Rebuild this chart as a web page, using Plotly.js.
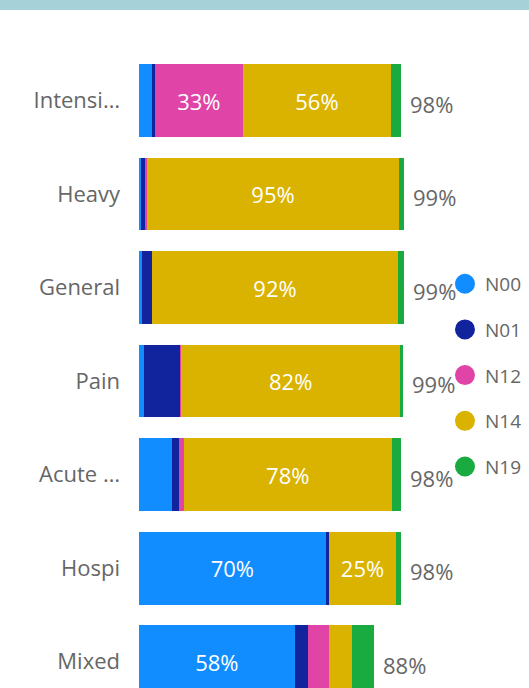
<!DOCTYPE html>
<html>
<head>
<meta charset="utf-8">
<script src="https://cdn.plot.ly/plotly-3.0.1.min.js"></script>
<style>html,body{margin:0;padding:0;background:#fff;overflow:hidden}#chart{width:529px;height:688px}</style>
</head>
<body>
<div id="chart"></div>
<script>
var categories = ["Intensi…", "Heavy", "General", "Pain", "Acute …", "Hospi", "Mixed"];
var seriesNames = ["N00", "N01", "N12", "N14", "N19"];
var N00 = [4.8, 0.7, 1.1, 1.9, 12.3, 69.9, 58.3];
var N01 = [1.2, 1.5, 3.7, 13.5, 2.6, 1.1, 4.9];
var N12 = [32.8, 0.7, 0.0, 0.3, 1.9, 0.0, 7.9];
var N14 = [55.7, 94.6, 92.3, 82.2, 77.8, 25.4, 8.6];
var N19 = [3.5, 1.9, 2.2, 1.1, 3.4, 1.9, 8.2];
var colors = ["#118DFF", "#12239E", "#E044A7", "#D9B300", "#1AAB40"];

var FONT = "'Segoe UI', 'Open Sans', sans-serif";
var series = [N00, N01, N12, N14, N19];
var traces = [];
series.forEach(function (vals, i) {
  traces.push({
    type: "bar", orientation: "h", name: seriesNames[i],
    y: categories, x: vals,
    marker: {color: colors[i]},
    text: vals.map(function (v) { return v >= 20 ? Math.round(v) + "%" : ""; }),
    textposition: "inside", insidetextanchor: "middle",
    textfont: {color: "#ffffff", size: 22, family: FONT},
    showlegend: false, hoverinfo: "skip", cliponaxis: true
  });
});
// legend entries
series.forEach(function (vals, i) {
  traces.push({
    type: "scatter", mode: "markers", name: seriesNames[i],
    x: [null], y: [null], legendgroup: "g" + i,
    marker: {color: colors[i], size: 16, line: {color: colors[i], width: 4}},
    showlegend: true
  });
});

var totals = categories.map(function (c, k) {
  return series.reduce(function (s, arr) { return s + arr[k]; }, 0);
});
var annotations = categories.map(function (c, k) {
  return {
    x: totals[k], y: c, xref: "x", yref: "y",
    text: Math.round(totals[k]) + "%", showarrow: false,
    xanchor: "left", yanchor: "middle", xshift: 7, yshift: -3,
    font: {size: 22, color: "#666666", family: FONT}
  };
});

var layout = {
  width: 529, height: 688,
  margin: {l: 139, r: 529 - 139 - 267.5, t: 40, b: 0},
  barmode: "stack", bargap: 0.22,
  paper_bgcolor: "#ffffff", plot_bgcolor: "#ffffff",
  showlegend: true,
  legend: {
    x: 1.146, xanchor: "left", y: 0.653, yanchor: "top",
    traceorder: "grouped", tracegroupgap: 18,
    font: {size: 19, color: "#666666", family: FONT},
    bgcolor: "rgba(0,0,0,0)", borderwidth: 0
  },
  xaxis: {range: [0, 100], visible: false, fixedrange: true},
  yaxis: {
    type: "category", categoryorder: "array", categoryarray: categories,
    range: [6.283, -0.647], showgrid: false, zeroline: false, showline: false,
    ticks: "", ticklabelstandoff: 18,
    tickfont: {size: 22, color: "#666666", family: FONT}
  },
  annotations: annotations,
  shapes: [{
    type: "rect", xref: "paper", yref: "paper",
    x0: -0.6, x1: 1.5, y0: 1 + 30 / 648, y1: 1 + 40 / 648,
    fillcolor: "#A6D1D8", line: {width: 0}, layer: "above"
  }]
};

Plotly.newPlot("chart", traces, layout, {displayModeBar: false, staticPlot: true});
</script>
</body>
</html>
